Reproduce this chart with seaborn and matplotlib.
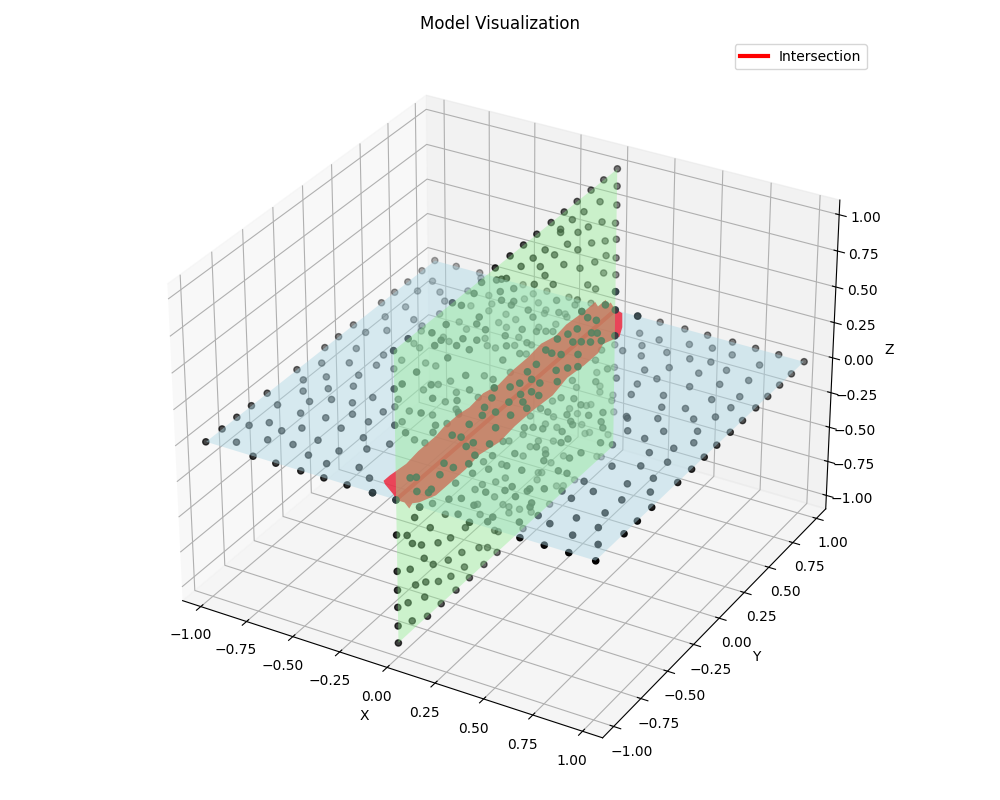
import numpy as np
import matplotlib
matplotlib.use("Agg")
import matplotlib.pyplot as plt
from mpl_toolkits.mplot3d.art3d import Poly3DCollection
import seaborn as sns

sns.reset_orig()
plane_color, wall_color = sns.color_palette(["lightblue", "lightgreen"])
line_color = "red"
strip_color = (240 / 255, 29 / 255, 52 / 255)

# point positions, in hundredths (x, y) on the flat plane
blue_points = [
    (-91,-91),(-91,-79),(-91,-68),(-91,-57),(-91,-45),(-91,-22),(-91,0),(-91,11),(-91,23),(-91,46),(-91,57),(-91,68),(-91,80),(-68,-91),(-57,-91),(-45,-91),
    (-34,-91),(-23,-91),(-11,-91),(-80,-85),(-83,-71),(-70,-77),(-77,-65),(-82,-51),(-69,-68),(-59,-75),(-70,-52),(-63,-62),(-72,-42),(-84,-28),(-79,-36),(-85,-12),
    (-77,-21),(-71,-29),(-65,-36),(-59,-50),(-52,-67),(-49,-79),(-40,-70),(-39,-81),(-49,-54),(-56,-34),(-51,-42),(-63,-22),(-66,-13),(-75,-6),(-79,6),(-64,-2),
    (-51,-26),(-41,-34),(-42,-44),(-37,-56),(-31,-63),(-26,-77),(-18,-82),(-25,-55),(-66,7),(-76,26),(-83,20),(-83,36),(-80,48),(-71,40),(-83,63),(-65,37),(-56,-1),
    (-39,-28),(91,-91),(91,-68),(91,-57),(91,-45),(91,-23),(91,-11),(91,0),(91,11),(91,23),(91,34),(91,46),(91,57),(91,68),(91,79),(91,91),(11,91),(22,91),(34,91),(45,91),
    (57,91),(68,91),(79,91),(57,-91),(68,-91),(79,-91),(19,78),(25,69),(29,77),(20,61),(29,61),(37,69),(42,80),(52,82),(62,81),(48,69),(57,71),(76,79),(66,68),(57,60),(44,58),
    (36,51),(29,39),(44,47),(39,39),(59,48),(69,56),(78,65),(53,36),(41,30),(81,51),(72,43),(48,13),(57,27),(66,31),(82,41),(80,31),(60,18),(49,12),(73,25),(54,3),(67,10),
    (79,17),(63,1),(82,8),(77,0),(70,-8),(80,-11),(72,-19),(62,-25),(74,-34),(81,-25),(85,-35),(65,-46),(78,-46),(60,-55),(77,-58),(69,-67),(62,-76),(80,-69),(74,-79),
    (86,-80),(58,-41),(14,48),(23,32),(22,15),(34,6),(27,12),(18,0),(31,-11),(35,-19),(36,-35),(49,-39),(42,-57),(51,-81),(25,-46),(16,-16),(34,-63),(49,-11),
    (44,0),(22,44),(12,57),(1,68),(1,59),(-6,68),(9,24),(14,28),(-5,44),(-12,21),(5,2),(6,-10),(14,1),(30,-2),(23,-13),(23,-36),(46,-22),(47,-54),(49,-69),(54,-52),(41,4),
    (54,-10),(34,-91),(11,-91),(27,-88),(40,-83),(55,-73),(14,-68),(28,-68),(35,-59),(18,-80),(48,-66),(29,-79),(0,91),
    (-46,91),(-34,91),(-54,75),(-39,80),(-32,80),(-23,91),(-12,91),(-49,69),(-47,63),(-26,76),(-17,77),(-39,64),(-15,75),(-65,87),(-64,74),
    (-68,61),(-74,67),(-82,74),(-91,91),(-80,91),(-68,91),(-56,63),(-64,50),(-33,62),(-53,48),(-63,33),(-47,44),(-38,56),(-33,54),(-21,61),(-16,67),(-52,33),(-60,22),
    (-56,20),(-36,41),(-32,36),(-22,42),(-16,46),(-9,56),(-2,57),(-7,79),(8,-77),(22,-77),(2,-57),(-2,-72),(7,-58),(16,-58),(20,-52),(16,-42),(34,-30),(44,-28),(45,-39),
    (32,-46),(42,-59),(40,-65),(40,-87),(-38,86),(-25,73),(-48,31),(-24,49),(8,64),(-28,36),(-14,38),(-57,7),(-47,10),(-42,10),(-1,45),(-30,2),(-20,13),(-6,25),(-36,-10),
    (-33,-3),(-23,-5),(-13,-4),(-4,15),(-41,-22),(-23,-14),(-16,-17),(1,7),(8,10),(17,13),(38,11),(-32,-28),(-22,-26),(-13,-20),(-4,-16),(26,2),(32,-4),(19,-14),(-5,-25),
    (-30,-37),(-18,-47),(-13,-47),(4,-37),(3,-41),(14,-30),(28,-27),(36,-15),
]

# same, as (y, z) on the upright plane
green_points = [
    (91,-38),(89,-59),(75,-31),(57,-29),(51,-39),(-80,91),(-91,91),(-91,68),(-91,46),
    (70,-49),(36,-24),(30,-35),(24,-42),(46,-67),(27,-65),(46,-87),(18,-85),(-4,-47),(11,-43),(-1,-25),(-1,-68),(76,-88),(65,-65),(78,-46),(91,-23),(58,-8),(75,-5),(74,4),
    (39,-6),(58,-16),(25,-5),(18,2),(0,9),(14,-14),(-1,0),(37,-35),(62,-57),(17,-41),(37,-51),(23,-67),(8,-76),(34,-91),(56,-90),(90,-56),(86,-80),(-77,-21),(-65,-36),
    (-83,-28),(-91,-22),(-79,-36),(-72,-42),(-59,-50),(-49,-54),(-70,-52),(-63,-61),(-51,-67),(-40,-70),(-26,-77),(-19,-82),(-11,-91),(-38,-81),(-91,-45),(-81,-51),
    (-22,-91),(-34,-91),(-49,-79),(-59,-75),(-69,-68),(-77,-64),(-91,-57),(-45,-91),(-70,-77),(-83,-71),(-91,-68),(-57,-91),(-68,-91),(-80,-85),(-91,-80),(-91,-91),
    (-37,-56),(-13,-75),(-53,-36),(-91,0),(-25,-56),(11,-91),(-23,-38),(-29,-37),(-13,-53),(-27,-48),(-63,-22),(-6,-63),(91,91),(79,91),(68,91),(56,91),(45,91),(34,91),
    (22,91),(11,91),(0,91),(-12,91),(91,80),(91,68),(90,57),(91,46),(91,34),(91,23),(91,12),(76,79),(62,81),(52,82),(78,65),(66,69),(42,80),(57,71),(81,51),(69,57),(48,69),
    (29,77),(57,60),(37,69),(19,78),(82,41),(72,43),(9,79),(25,69),(45,58),(59,47),(80,31),(-3,79),(29,61),(66,32),(73,25),(36,51),(20,61),(-7,81),(3,69),(-8,74),(-7,68),(3,61),
    (39,39),(57,28),(82,9),(1,60),(15,48),(41,30),(61,18),(19,41),(-11,83),(-23,89),(-29,86),(-46,91),(-39,85),(-25,69),(42,82),(-51,81),(-62,83),
    (-27,66),(-20,58),(10,39),(22,30),(36,21),(-38,64),(-43,63),(-60,74),(-4,44),(-3,37),(14,28),(-33,54),(49,11),(69,-7),(-75,-6),(-66,-13),(-42,21),(-57,-8),(-80,6),
    (-34,-17),(-22,-24),(-7,-36),(-29,-15),(35,-64),(80,-91),(24,-63),(-12,-44),(40,-83),(-1,-72),(-10,-78),(55,26),(-55,74),(-27,56),(30,25),(91,-17),(8,25),(30,13),
    (-50,60),(-6,30),(22,9),(-74,67),(-36,40),(-14,23),(49,-11),(-63,52),(-85,67),(-33,29),(-13,17),(78,-42),(-62,43),(-43,29),(-15,12),(18,-6),(-21,10),(66,-47),(91,-68),
    (-71,40),(-60,25),(-12,1),(17,-21),(58,-47),(40,-44),(-12,-9),(-51,20),(-83,36),(-62,22),(-47,10),(-40,4),(-17,-16),(11,-29),(30,-52),(69,-67),
]

# outline of the red strip, (x, y) on the flat plane
band_points = [
    (-12,-76),(-11,-65),(-12,-54),(-12,-40),(-13,-32),(-13,-20),(-12,-13),(-13,0),(-11,9),(-12,22),(-12,36),(-13,49),(-11,58),(-12,69),(-11,83),(-11,89),(-11,93),(-8,90),
    (-8,97),(-5,93),(-5,96),(-1,92),(4,90),(10,79),(13,71),(10,62),(12,54),(12,42),(11,29),(13,13),(12,-3),(12,-17),(13,-31),(11,-44),(12,-57),(12,-72),(12,-80),(9,-88),(7,-90),(8,-94),
    (4,-91),(0,-91),(-3,-88),(-10,-83),(-12,-81),
]

to_data = 1.1 / 100
axis_limit = [-1.1, 1.1]
edge = [-1.0, 1.0]

blue_x, blue_y = np.array(blue_points).T * to_data
green_y, green_z = np.array(green_points).T * to_data
band_x, band_y = np.array(band_points).T * to_data

fig = plt.figure(figsize=(10, 8))
ax = fig.add_subplot(111, projection="3d")
ax.computed_zorder = False

ax.plot(np.zeros(2), edge, np.zeros(2), color=line_color, lw=3, label="Intersection", zorder=1)
ax.scatter(np.r_[blue_x, np.zeros(len(green_y))], np.r_[blue_y, green_y],
           np.r_[np.zeros(len(blue_x)), green_z], color="black", zorder=2)

fx, fy = np.meshgrid(edge, edge)
ax.plot_surface(fx, fy, np.zeros_like(fx), color=plane_color, alpha=0.45, shade=False, linewidth=0, zorder=3)
strip = Poly3DCollection([list(zip(band_x, band_y, np.zeros(len(band_x))))], facecolor=strip_color,
                         edgecolor="none", alpha=0.8, zorder=4)
ax.add_collection3d(strip)

# dots lying on the strip stay visible on top of it
on_blue = np.abs(blue_x) < 0.13
on_green = np.abs(green_z) < 0.2
ax.scatter(np.r_[blue_x[on_blue], np.zeros(on_green.sum())], np.r_[blue_y[on_blue], green_y[on_green]],
           np.r_[np.zeros(on_blue.sum()), green_z[on_green]], color="#2f3f44", alpha=0.85, zorder=4.5)

ax.plot_surface(np.zeros_like(fx), fx, fy, color=wall_color, alpha=0.4, shade=False, linewidth=0, zorder=5)

ax.set_xlim(axis_limit)
ax.set_ylim(axis_limit)
ax.set_zlim(axis_limit)
ax.set_xlabel("X")
ax.set_ylabel("Y")
ax.set_zlabel("Z")
ax.set_title("Model Visualization")
ax.legend()
plt.tight_layout()
fig.savefig("out.png", dpi=100)
